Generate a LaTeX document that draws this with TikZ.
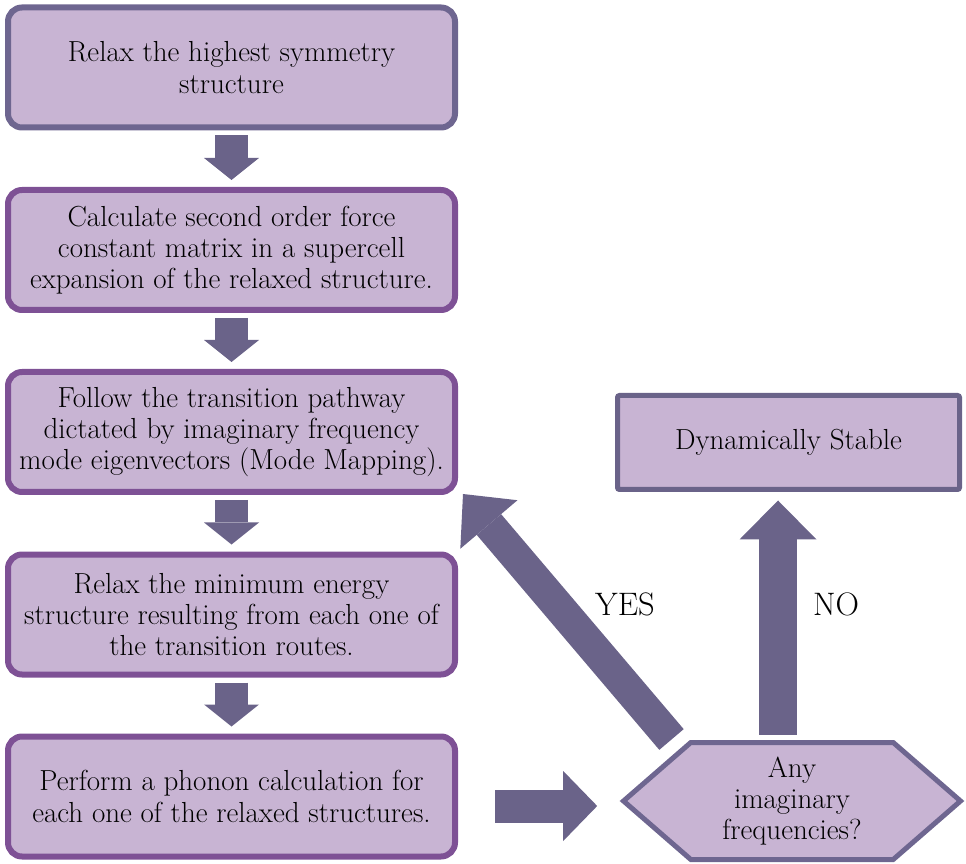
\documentclass[tikz,border=0pt]{standalone}
\usepackage{xcolor}
\usepackage{tikz}
\usetikzlibrary{arrows.meta,shapes.symbols}

\definecolor{boxfill}{HTML}{C8B4D3}
\definecolor{boxline}{HTML}{7E5195}
\definecolor{greyline}{HTML}{6E6690}
\definecolor{arrowfill}{HTML}{6A6389}

\begin{document}
\begin{tikzpicture}[
    stepbox/.style={draw=boxline,
        fill=boxfill,
        line width=0.12cm,
        rounded corners=0.28cm,
        minimum width=8.94cm,
        minimum height=2.40cm,
        align=center,
        font=\fontsize{16.5}{17.8}\selectfont},
    flowarrow/.style={draw=arrowfill,
        line width=0.66cm,
        -{Triangle[width=1.1cm 0, length=0.44cm 0, line width=0pt]}}
]
\useasboundingbox (0,0) rectangle (19.32,17.26);
                % Step 1
                \node [stepbox,
                    draw=greyline] (relax) at (4.63,15.91)
                    {Relax the highest symmetry\\structure};
                % Step 2
                \node [stepbox] (force) at (4.63,12.26)
                    {Calculate second order force\\constant matrix in a supercell\\expansion of the relaxed structure.};
                % Step 3
                \node [stepbox] (follow) at (4.63,8.62)
                    {Follow the transition pathway\\dictated by imaginary frequency\\mode eigenvectors (Mode Mapping).};
                % Step 4
                \node [stepbox] (minimum) at (4.63,4.97)
                    {Relax the minimum energy\\structure resulting from each one of\\the transition routes.};
                % Step 5
                \node [stepbox] (phonon) at (4.63,1.33)
                    {Perform a phonon calculation for\\each one of the relaxed structures.};
                % Decision
                \node [signal,
                    signal to=west and east,
                    signal pointer angle=82,
                    draw=greyline,
                    fill=boxfill,
                    line width=0.1cm,
                    minimum width=6.74cm,
                    minimum height=2.34cm,
                    align=center,
                    font=\fontsize{16.5}{17.8}\selectfont] (query) at (15.84,1.24)
                    {Any\\imaginary\\frequencies?};
                % Result
                \node [draw=arrowfill,
                    fill=boxfill,
                    line width=0.1cm,
                    rounded corners=0.04cm,
                    minimum width=6.84cm,
                    minimum height=1.88cm,
                    font=\fontsize{16.5}{17.8}\selectfont] (stable) at (15.77,8.41)
                    {Dynamically Stable};
                % Down arrows
                \draw [flowarrow] ([yshift=-0.1cm]relax.south) -- ([yshift=0.14cm]force.north);
                \draw [flowarrow] ([yshift=-0.1cm]force.south) -- ([yshift=0.14cm]follow.north);
                \draw [flowarrow] ([yshift=-0.1cm]follow.south) -- ([yshift=0.14cm]minimum.north);
                \draw [flowarrow] ([yshift=-0.1cm]minimum.south) -- ([yshift=0.14cm]phonon.north);
                % Into the decision
                \draw [flowarrow,
                    -{Triangle[width=1.4cm 0, length=0.68cm 0, line width=0pt]}]
                    ([xshift=0.74cm,yshift=-0.19cm]phonon.east) -- ([xshift=-0.45cm,yshift=-0.1cm]query.west);
                % Answers
                \draw [flowarrow,
                    line width=0.76cm,
                    -{Triangle[width=1.54cm 0, length=0.78cm 0, line width=0pt]}]
                    ([xshift=-0.28cm,yshift=0.11cm]query.north) -- ([xshift=-0.21cm,yshift=-0.17cm]stable.south);
                \draw [flowarrow,
                    line width=0.64cm,
                    -{Triangle[width=1.5cm 0, length=0.8cm 0, line width=0pt]}]
                    ([xshift=-2.41cm,yshift=0.01cm]query.north) -- ([xshift=0.1cm,yshift=0.02cm]follow.south east);
                \node [font=\fontsize{18.5}{20}\selectfont] (yes) at (12.5,5.18) {YES};
                \node [font=\fontsize{18.5}{20}\selectfont] (no) at (16.72,5.18) {NO};
\end{tikzpicture}
\end{document}
